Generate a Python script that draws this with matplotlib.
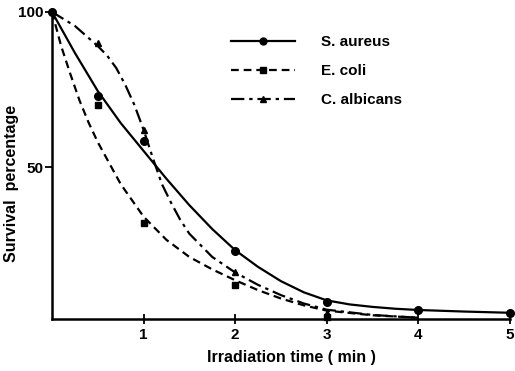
import matplotlib
matplotlib.use('Agg')
import matplotlib.pyplot as plt

plt.rcParams['font.family'] = ['Liberation Sans', 'DejaVu Sans']
plt.rcParams['font.weight'] = 'bold'
plt.rcParams['axes.labelweight'] = 'bold'

# measured points
sa_x = [0, 0.5, 1, 2, 3, 4, 5]
sa_y = [100, 73, 58.5, 23, 6.5, 3.9, 2.9]
ec_x = [0.5, 1, 2, 3]
ec_y = [70, 32, 12, 1.8]
ca_x = [0.5, 1, 2, 3]
ca_y = [90, 62, 16, 3]

# hand-drawn fitted curves
sa_cx = [0, 0.25, 0.5, 0.75, 1.0, 1.25, 1.5, 1.75, 2.0, 2.25, 2.5, 2.75, 3.0, 3.25, 3.5, 3.75, 4.0, 4.5, 5.0]
sa_cy = [100, 86.8, 74.5, 64.2, 55.2, 46.2, 37.7, 30, 23.2, 17.8, 13.2, 9.6, 7, 5.7, 4.9, 4.3, 3.9, 3.4, 3.0]
ec_cx = [0, 0.1, 0.2, 0.3, 0.4, 0.5, 0.75, 1.0, 1.25, 1.5, 1.75, 2.0, 2.25, 2.5, 2.75, 3.0, 3.5, 4.0]
ec_cy = [100, 89, 80, 71.5, 64.3, 58, 44.5, 34, 26.5, 21, 17, 13.5, 10.3, 7.6, 5.4, 3.7, 2.2, 1.4]
ca_cx = [0, 0.25, 0.5, 0.6, 0.7, 0.8, 0.9, 1.0, 1.1, 1.2, 1.3, 1.4, 1.5, 1.75, 2.0, 2.25, 2.5, 2.75, 3.0, 3.5, 4.0]
ca_cy = [100, 95.5, 89, 86, 82, 76.5, 70, 62, 53, 44.5, 38.5, 33, 28.5, 21, 16, 12, 8.7, 6, 4, 2.3, 1.4]

labels = ['S. aureus', 'E. coli', 'C. albicans']

dashed = (0, (3.5, 2.2))
dashdot = (0, (6, 2.2, 1.5, 2.2))

fig = plt.figure(figsize=(5.15, 3.71), dpi=100)
ax = fig.add_axes([0.101, 0.1402, 0.889, 0.8275])

lw = 1.6
ax.plot(sa_cx, sa_cy, color='black', lw=lw, ls='-')
ax.plot(ec_cx, ec_cy, color='black', lw=lw, ls=dashed)
ax.plot(ca_cx, ca_cy, color='black', lw=lw, ls=dashdot)

ax.plot(sa_x, sa_y, 'o', color='black', ms=5.5, clip_on=False)
ax.plot(ec_x, ec_y, 's', color='black', ms=5, clip_on=False)
ax.plot(ca_x, ca_y, '^', color='black', ms=5, clip_on=False)

# legend proxies
h1, = ax.plot([], [], color='black', lw=lw, ls='-', marker='o', ms=5)
h2, = ax.plot([], [], color='black', lw=lw, ls=dashed, marker='s', ms=5)
h3, = ax.plot([], [], color='black', lw=lw, ls=dashdot, marker='^', ms=5)
ax.legend([h1, h2, h3], labels, loc='upper left', bbox_to_anchor=(0.36, 0.97),
          frameon=False, handlelength=4.2, handletextpad=1.7, labelspacing=0.98,
          fontsize=11)

ax.set_xlim(0, 5)
ax.set_ylim(1, 100)
ax.set_xticks([1, 2, 3, 4, 5])
ax.set_yticks([50, 100])
ax.tick_params(axis='x', direction='inout', length=7, width=1.3, labelsize=11, pad=3)
ax.tick_params(axis='y', direction='out', length=5, width=1.3, labelsize=11, pad=1)

for s in ['top', 'right']:
    ax.spines[s].set_visible(False)
for s in ['left', 'bottom']:
    ax.spines[s].set_linewidth(1.8)

ax.set_xlabel('Irradiation time ( min )', fontsize=11.5)
ax.set_ylabel('Survival  percentage', fontsize=11.5)
ax.xaxis.set_label_coords(0.524, -0.10)
ax.yaxis.set_label_coords(-0.072, 0.44)

fig.savefig('out.png', dpi=100)
